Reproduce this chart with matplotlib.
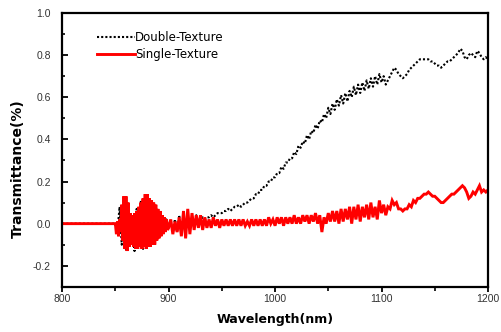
"""Transmittance spectra of double- vs single-texture samples."""

import numpy as np
import matplotlib
matplotlib.use("Agg")
import matplotlib.pyplot as plt

plt.rcParams["font.family"] = ["Liberation Sans", "DejaVu Sans"]
plt.rcParams["path.simplify"] = False   # keep every zigzag of the noisy traces

# ── Data ──────────────────────────────────────────────────────────────────────
# Single-Texture: flat zero before 850 nm, then 1 nm samples to 899, 2 nm after
red_flat_wl = [800, 849]
red_flat = [0.0, 0.0]

red_a_start, red_a_step = 850, 1
red_a = [
    0.0, -0.05, 0.01, -0.06, 0.02, -0.04, 0.09, -0.08, 0.13, -0.12,
    0.13, -0.13, 0.10, -0.11, 0.05, -0.10, 0.04, -0.11, 0.05, -0.12,
    0.06, -0.12, 0.08, -0.11, 0.10, -0.12, 0.12, -0.11, 0.14, -0.12,
    0.14, -0.11, 0.12, -0.11, 0.11, -0.10, 0.10, -0.10, 0.09, -0.08,
    0.07, -0.07, 0.06, -0.06, 0.04, -0.05, 0.03, -0.04, 0.02, -0.03,
]

red_b_start, red_b_step = 900, 2
red_b = [
    -0.02, 0.02, -0.05, 0.01, -0.04, 0.03, -0.06, 0.06, -0.07, 0.07,
    -0.05, 0.05, -0.03, 0.04, -0.02, 0.04, -0.03, 0.03, -0.02, 0.02,
    -0.02, 0.03, -0.01, 0.02, -0.02, 0.02, -0.01, 0.02, -0.01, 0.02,
    -0.01, 0.02, -0.01, 0.02, -0.01, 0.02, -0.01, 0.01, -0.01, 0.02,
    -0.01, 0.02, -0.01, 0.02, -0.01, 0.02, -0.01, 0.03, 0.00, 0.02,
    -0.01, 0.03, 0.00, 0.03, -0.01, 0.03, 0.00, 0.03, 0.00, 0.04,
    0.00, 0.03, 0.00, 0.04, 0.01, 0.04, 0.00, 0.04, 0.01, 0.05,
    0.00, 0.04, -0.04, 0.03, 0.00, 0.05, 0.01, 0.06, 0.01, 0.06,
    0.00, 0.07, 0.01, 0.07, 0.02, 0.08, 0.00, 0.08, 0.02, 0.09,
    0.01, 0.08, 0.03, 0.09, 0.02, 0.10, 0.03, 0.08, 0.02, 0.11,
    0.05, 0.09, 0.04, 0.08, 0.07, 0.11, 0.09, 0.10, 0.07, 0.07,
    0.06, 0.07, 0.07, 0.09, 0.08, 0.11, 0.10, 0.12, 0.12, 0.13,
    0.14, 0.14, 0.15, 0.14, 0.13, 0.13, 0.12, 0.11, 0.10, 0.10,
    0.11, 0.12, 0.13, 0.14, 0.14, 0.15, 0.16, 0.17, 0.18, 0.17,
    0.15, 0.12, 0.13, 0.15, 0.14, 0.16, 0.18, 0.15, 0.16, 0.15,
    0.16,
]

# Double-Texture: flat zero before 850 nm, then 2 nm samples
black_flat_wl = [800, 849]
black_flat = [0.0, 0.0]

black_start, black_step = 850, 2
black = [
    # 850 - 898 (mostly hidden under the red trace)
    0.0, -0.03, 0.08, -0.10, 0.10, -0.13, 0.03, -0.09, 0.04, -0.13,
    0.07, -0.10, 0.11, -0.12, 0.11, -0.09, 0.08, -0.08, 0.06, -0.06,
    0.05, -0.05, 0.03, -0.03, 0.02,
    # 900 - 928
    -0.02, 0.01, -0.03, 0.02, -0.04, 0.04, -0.05, 0.05, -0.03, 0.03,
    -0.02, 0.03, -0.01, 0.04, 0.0,
    # 930 - 1200
    0.02, 0.03, 0.02, 0.03, 0.03, 0.04, 0.03, 0.04, 0.05, 0.05,
    0.05, 0.06, 0.06, 0.07, 0.06, 0.07, 0.08, 0.08, 0.09, 0.08,
    0.09, 0.10, 0.10, 0.11, 0.12, 0.12, 0.14, 0.14, 0.16, 0.16,
    0.18, 0.18, 0.20, 0.20, 0.22, 0.22, 0.24, 0.24, 0.27, 0.26,
    0.29, 0.29, 0.31, 0.31, 0.34, 0.33, 0.37, 0.36, 0.39, 0.38,
    0.42, 0.40, 0.44, 0.43, 0.47, 0.45, 0.49, 0.48, 0.52, 0.50,
    0.55, 0.52, 0.57, 0.54, 0.59, 0.56, 0.61, 0.57, 0.62, 0.58,
    0.63, 0.60, 0.65, 0.61, 0.66, 0.62, 0.67, 0.63, 0.68, 0.64,
    0.69, 0.65, 0.70, 0.66, 0.71, 0.67, 0.70, 0.66, 0.68, 0.70,
    0.72, 0.74, 0.73, 0.71, 0.70, 0.69, 0.70, 0.71, 0.73, 0.74,
    0.75, 0.76, 0.77, 0.78, 0.78, 0.78, 0.78, 0.78, 0.77, 0.77,
    0.76, 0.75, 0.75, 0.74, 0.75, 0.76, 0.77, 0.77, 0.78, 0.79,
    0.80, 0.81, 0.83, 0.82, 0.79, 0.78, 0.80, 0.81, 0.80, 0.79,
    0.82, 0.81, 0.79, 0.78, 0.79, 0.78,
]

X_TICKS = [800, 900, 1000, 1100, 1200]
Y_TICKS = [-0.2, 0.0, 0.2, 0.4, 0.6, 0.8, 1.0]


def sample_grid(start, step, values):
    return start + step * np.arange(len(values))


red_wl = np.concatenate([red_flat_wl,
                         sample_grid(red_a_start, red_a_step, red_a),
                         sample_grid(red_b_start, red_b_step, red_b)])
red_t = np.concatenate([red_flat, red_a, red_b])

black_wl = np.concatenate([black_flat_wl,
                           sample_grid(black_start, black_step, black)])
black_t = np.concatenate([black_flat, black])

# ── Plot ──────────────────────────────────────────────────────────────────────
fig = plt.figure(figsize=(5.01, 3.32), dpi=100)
ax = fig.add_axes([0.124, 0.136, 0.850, 0.825])

ax.plot(black_wl, black_t, color="black", linestyle=(0, (1, 1)),
        linewidth=1.5, label="Double-Texture")
ax.plot(red_wl, red_t, color="#ff0000", linewidth=2.1,
        solid_joinstyle="miter", label="Single-Texture")

ax.set_xlim(800, 1200)
ax.set_ylim(-0.3, 1.0)
ax.set_xticks(X_TICKS)
ax.set_xticks(np.arange(850, 1200, 100), minor=True)
ax.set_yticks(Y_TICKS)
ax.set_yticks(np.arange(-0.3, 1.0, 0.2), minor=True)
ax.yaxis.set_major_formatter(matplotlib.ticker.FormatStrFormatter("%.1f"))

for side in ax.spines.values():
    side.set_linewidth(1.6)
ax.tick_params(axis="y", which="major", direction="in", length=4, width=1.3,
               labelsize=7.5, labelcolor="#333333", pad=8)
ax.tick_params(axis="y", which="minor", direction="in", length=2.5, width=1.2)
ax.tick_params(axis="x", which="major", direction="out", length=3.5,
               width=1.3, labelsize=7.5, labelcolor="#333333", pad=2)
ax.tick_params(axis="x", which="minor", direction="out", length=3, width=1.2)

ax.set_xlabel("Wavelength(nm)", fontsize=9, fontweight="bold",
              family="DejaVu Sans", labelpad=6)
ax.set_ylabel("Transmittance(%)", fontsize=10, fontweight="bold",
              family="DejaVu Sans")
ax.yaxis.set_label_coords(-0.087, 0.43)

ax.legend(loc="upper left", bbox_to_anchor=(0.057, 0.972), frameon=False,
          prop={"family": "DejaVu Sans", "size": 8.5},
          handlelength=3.2, handletextpad=0.0, labelspacing=0.35)

fig.savefig("out.png", dpi=100)
